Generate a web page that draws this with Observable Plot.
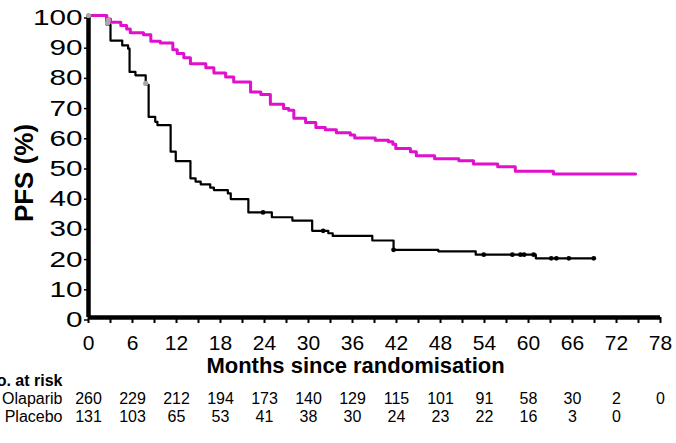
<!DOCTYPE html>
<html>
<head>
<meta charset="utf-8">
<style>
  body { margin: 0; background: #fff; }
  #chart svg { font-family: "Liberation Sans", Arial, sans-serif; }
</style>
<script src="https://cdn.jsdelivr.net/npm/d3@7"></script>
<script src="https://cdn.jsdelivr.net/npm/@observablehq/plot@0.6"></script>
</head>
<body>
<div id="chart"></div>
<script>
// ---- Data ----
const olaparibMonths = [0, 2.5, 3.0, 4.4, 5.2, 5.7, 7.5, 8.5, 9.8, 11.5, 12.1, 13.0, 13.9, 16.0, 17.1, 18.7, 19.8, 22.1, 23.5, 24.8, 26.6, 27.3, 28.0, 29.6, 31.0, 32.3, 33.8, 35.7, 36.3, 39.1, 40.9, 41.5, 41.9, 43.9, 44.7, 47.2, 50.5, 52.5, 55.8, 58.2, 63.4, 74.6];
const olaparibPFS    = [100, 98.8, 97.8, 96.7, 95.5, 94.3, 93.6, 91.5, 90.9, 88.7, 87.4, 86.0, 84.0, 82.7, 81.0, 79.6, 78.0, 74.7, 73.8, 70.6, 69.2, 68.6, 66.0, 64.6, 62.9, 62.2, 61.2, 60.4, 59.4, 58.7, 58.2, 57.4, 56.0, 54.9, 53.6, 52.6, 51.9, 50.8, 49.9, 48.4, 47.5, 47.5];

const placeboMonths = [0, 2.45, 3.0, 4.6, 5.4, 5.6, 6.4, 7.8, 8.2, 9.1, 9.4, 11.2, 11.9, 13.9, 14.6, 15.3, 16.6, 17.1, 19.0, 19.4, 21.8, 25.0, 27.8, 30.5, 32.7, 33.3, 38.7, 41.6, 47.7, 52.8, 61.0, 68.9];
const placeboPFS    = [100, 97.0, 91.7, 90.1, 89.0, 81.3, 80.2, 77.0, 66.4, 64.8, 63.7, 54.9, 51.8, 46.1, 45.0, 44.1, 43.0, 42.2, 41.1, 39.2, 34.8, 33.2, 32.1, 28.7, 27.9, 27.0, 25.5, 22.4, 21.9, 20.8, 19.6, 19.6];

const placeboCensorMonths = [23.8, 32.0, 41.6, 53.9, 57.8, 58.9, 59.4, 60.7, 63.1, 63.8, 65.5, 68.9];
const placeboCensorPFS    = [34.8, 28.7, 22.4, 20.8, 20.8, 20.8, 20.8, 20.8, 19.6, 19.6, 19.6, 19.6];

const greyMarkMonths = [0, 2.7, 2.6, 7.8];
const greyMarkPFS    = [100, 98.5, 97.5, 77.5];

const riskMonths = [0, 6, 12, 18, 24, 30, 36, 42, 48, 54, 60, 66, 72, 78];
const olaparibAtRisk = [260, 229, 212, 194, 173, 140, 129, 115, 101, 91, 58, 30, 2, 0];
const placeboAtRisk  = [131, 103, 65, 53, 41, 38, 30, 24, 23, 22, 16, 3, 0];

const xTickLabels = [0, 6, 12, 18, 24, 30, 36, 42, 48, 54, 60, 66, 72, 78];
const xMinorTicks = d3.range(0, 79, 3);
const yTicks = [0, 10, 20, 30, 40, 50, 60, 70, 80, 90, 100];

// ---- Tables built from the arrays ----
const olaparib = olaparibMonths.map((t, i) => ({t, s: olaparibPFS[i]}));
const placebo = placeboMonths.map((t, i) => ({t, s: placeboPFS[i]}));
const placeboCensor = placeboCensorMonths.map((t, i) => ({t, s: placeboCensorPFS[i]}));
const greyMarks = greyMarkMonths.map((t, i) => ({t, s: greyMarkPFS[i]}));

const magenta = "#e010cc";

const chart = Plot.plot({
  width: 676,
  height: 443,
  marginLeft: 88,
  marginRight: 16,
  marginTop: 15,
  marginBottom: 126,
  style: {fontFamily: "'Liberation Sans', Arial, sans-serif", background: "white", color: "black", overflow: "visible"},
  x: {domain: [0, 78]},
  y: {domain: [0, 100]},
  marks: [
    Plot.axisY(yTicks, {tickSize: 4, tickPadding: 2, fontSize: 22, label: null, strokeWidth: 1.5, dy: 2.5}),
    Plot.axisX(xMinorTicks, {tickSize: 6, tickFormat: () => "", label: null, strokeWidth: 2}),
    Plot.axisX(xTickLabels, {tickSize: 0, tickPadding: 18, fontSize: 21, label: null}),
    Plot.ruleY([0], {strokeWidth: 4.5, stroke: "black"}),
    Plot.ruleX([0], {strokeWidth: 4.5, stroke: "black"}),
    Plot.line(placebo, {x: "t", y: "s", curve: "step-after", stroke: "black", strokeWidth: 2.2}),
    Plot.line(olaparib, {x: "t", y: "s", curve: "step-after", stroke: magenta, strokeWidth: 3}),
    Plot.dot(placeboCensor, {x: "t", y: "s", r: 2.4, fill: "black"}),
    Plot.dot(greyMarks, {x: "t", y: "s", r: 2.6, fill: "#a8a8a8"}),
    Plot.text(["PFS (%)"], {text: d => d, frameAnchor: "left", textAnchor: "middle", lineAnchor: "middle", rotate: -90, dx: -64, dy: 6.5, fontSize: 26, fontWeight: "bold"}),
    Plot.text(["Months since randomisation"], {text: d => d, frameAnchor: "bottom", dx: -19, dy: 55.3, fontSize: 22, fontWeight: "bold"}),
    Plot.text(["No. at risk"], {text: d => d, frameAnchor: "bottom-left", textAnchor: "end", dx: -26, dy: 68, fontSize: 16, fontWeight: "bold"}),
    Plot.text(["Olaparib"], {text: d => d, frameAnchor: "bottom-left", textAnchor: "end", dx: -26, dy: 86.3, fontSize: 16}),
    Plot.text(["Placebo"], {text: d => d, frameAnchor: "bottom-left", textAnchor: "end", dx: -26, dy: 104.7, fontSize: 16}),
    Plot.text(olaparibAtRisk, {x: (d, i) => riskMonths[i], text: d => String(d), frameAnchor: "bottom", dy: 86.3, fontSize: 16}),
    Plot.text(placeboAtRisk, {x: (d, i) => riskMonths[i], text: d => String(d), frameAnchor: "bottom", dy: 104.7, fontSize: 16})
  ]
});

// y tick labels in the reference are horizontally stretched
chart.querySelectorAll('g[aria-label="y-axis tick label"] text').forEach(t => {
  const tr = t.getAttribute("transform") || "";
  t.setAttribute("transform", tr + " scale(1.35,1)");
});

document.getElementById("chart").append(chart);
</script>
</body>
</html>
